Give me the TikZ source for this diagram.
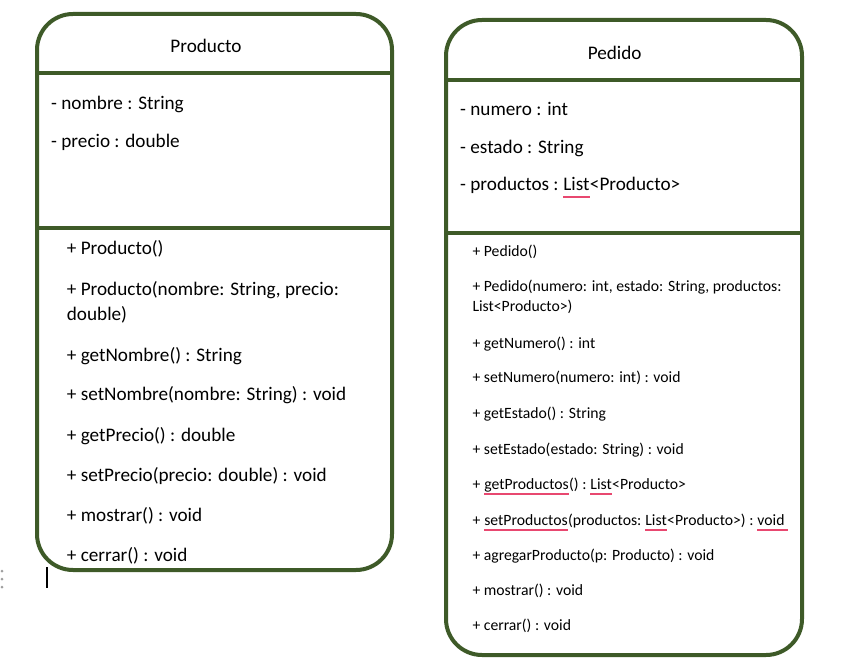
\documentclass[tikz,border=0pt]{standalone}
\usepackage{fontspec}
\setmainfont{Carlito}
\usetikzlibrary{positioning}
\definecolor{umlgreen}{RGB}{62,90,40}
\definecolor{spellred}{RGB}{232,72,112}
\tikzset{classbox/.style={draw=umlgreen, line width=4pt, rounded corners=36pt, inner sep=0pt}}
\tikzset{sepline/.style={draw=umlgreen, line width=4pt}}
\tikzset{title/.style={anchor=base, inner sep=0pt, font=\fontsize{19.2}{23}\selectfont}}
\tikzset{member/.style={anchor=base west, inner sep=0pt, font=\fontsize{19.2}{23}\selectfont}}
\tikzset{smallmember/.style={anchor=base west, inner sep=0pt, font=\fontsize{15.7}{19}\selectfont}}
\tikzset{spellmark/.style={draw=spellred, line width=1.9pt}}

\begin{document}
\begin{tikzpicture}[x=1pt, y=-1pt]
  \useasboundingbox (0,0) rectangle (860,671);

  % Clase Producto
  \node[classbox, minimum width=355pt, minimum height=556pt] (producto) at (214.5,292) {};
  \draw[sepline] (producto.west |- 0,73) -- (producto.east |- 0,73);
  \draw[sepline] (producto.west |- 0,228) -- (producto.east |- 0,228);
  \node[title] (prodname) at (206,52.7) {Producto};
  \node[member] (prodattr1) at (51,110) {- nombre : String};
  \node[member] (prodattr2) at (51,148) {- precio : double};
  \node[member] (prodm1) at (66.7,255) {+ Producto()};
  \node[member] (prodm2) at (66.7,295) {+ Producto(nombre: String, precio:};
  \node[member] (prodm2b) at (66.7,320.7) {double)};
  \node[member] (prodm3) at (66.7,361.7) {+ getNombre() : String};
  \node[member] (prodm4) at (66.7,400.7) {+ setNombre(nombre: String) : void};
  \node[member] (prodm5) at (66.7,441.7) {+ getPrecio() : double};
  \node[member] (prodm6) at (66.7,481.7) {+ setPrecio(precio: double) : void};
  \node[member] (prodm7) at (66.7,521.7) {+ mostrar() : void};
  \node[member] (prodm8) at (66.7,561.7) {+ cerrar() : void};

  % Clase Pedido
  \node[classbox, minimum width=356pt, minimum height=635pt] (pedido) at (624,337.5) {};
  \draw[sepline] (pedido.west |- 0,80) -- (pedido.east |- 0,80);
  \draw[sepline] (pedido.west |- 0,233) -- (pedido.east |- 0,233);
  \node[title] (pedname) at (614.7,60) {Pedido};
  \node[member] (pedattr1) at (460,116) {- numero : int};
  \node[member] (pedattr2) at (460,153.3) {- estado : String};
  \node[member] (pedattr3) at (460,191) {- productos :};
  \node[member, xshift=4.3pt] (pedattr3list) at (pedattr3.base east) {List};
  \node[member] (pedattr3rest) at (pedattr3list.base east) {<Producto>};
  \node[smallmember] (pedm1) at (472.3,256.7) {+ Pedido()};
  \node[smallmember] (pedm2) at (472.3,291.7) {+ Pedido(numero: int, estado: String, productos:};
  \node[smallmember] (pedm2b) at (472.3,311.7) {List<Producto>)};
  \node[smallmember] (pedm3) at (472.3,348.3) {+ getNumero() : int};
  \node[smallmember] (pedm4) at (472.3,382.7) {+ setNumero(numero: int) : void};
  \node[smallmember] (pedm5) at (472.3,418.3) {+ getEstado() : String};
  \node[smallmember] (pedm6) at (472.3,454) {+ setEstado(estado: String) : void};
  % getProductos
  \node[smallmember] (pedm7) at (472.3,489) {+};
  \node[smallmember, xshift=3.55pt] (pedm7get) at (pedm7.base east) {getProductos};
  \node[smallmember] (pedm7mid) at (pedm7get.base east) {() :};
  \node[smallmember, xshift=3.55pt] (pedm7list) at (pedm7mid.base east) {List};
  \node[smallmember] (pedm7rest) at (pedm7list.base east) {<Producto>};
  % setProductos
  \node[smallmember] (pedm8) at (472.3,525) {+};
  \node[smallmember, xshift=3.55pt] (pedm8set) at (pedm8.base east) {setProductos};
  \node[smallmember] (pedm8mid) at (pedm8set.base east) {(productos:};
  \node[smallmember, xshift=3.55pt] (pedm8list) at (pedm8mid.base east) {List};
  \node[smallmember] (pedm8rest) at (pedm8list.base east) {<Producto>) :};
  \node[smallmember, xshift=3.55pt] (pedm8void) at (pedm8rest.base east) {void};
  \node[smallmember] (pedm9) at (472.3,560) {+ agregarProducto(p: Producto) : void};
  \node[smallmember] (pedm10) at (472.3,595) {+ mostrar() : void};
  \node[smallmember] (pedm11) at (472.3,630.7) {+ cerrar() : void};

  % subrayado del corrector
  \draw[spellmark] ([yshift=-6pt]pedattr3list.base west) -- ([yshift=-6pt]pedattr3list.base east);
  \draw[spellmark] ([yshift=-4.6pt]pedm7get.base west) -- ([yshift=-4.6pt]pedm7get.base east);
  \draw[spellmark] ([yshift=-4.6pt]pedm7list.base west) -- ([yshift=-4.6pt]pedm7list.base east);
  \draw[spellmark] ([yshift=-4.6pt]pedm8set.base west) -- ([yshift=-4.6pt]pedm8set.base east);
  \draw[spellmark] ([yshift=-4.6pt]pedm8list.base west) -- ([yshift=-4.6pt]pedm8list.base east);
  \draw[spellmark] ([yshift=-4.6pt]pedm8void.base west) -- ([xshift=3pt,yshift=-4.6pt]pedm8void.base east);

  % cursor y puntos del editor
  \draw[line width=1.6pt] (47,567) -- (47,588);
  \fill[gray!75] (2,571) circle (1.5pt) (2,579) circle (1.5pt) (2,587) circle (1.5pt);
\end{tikzpicture}
\end{document}
